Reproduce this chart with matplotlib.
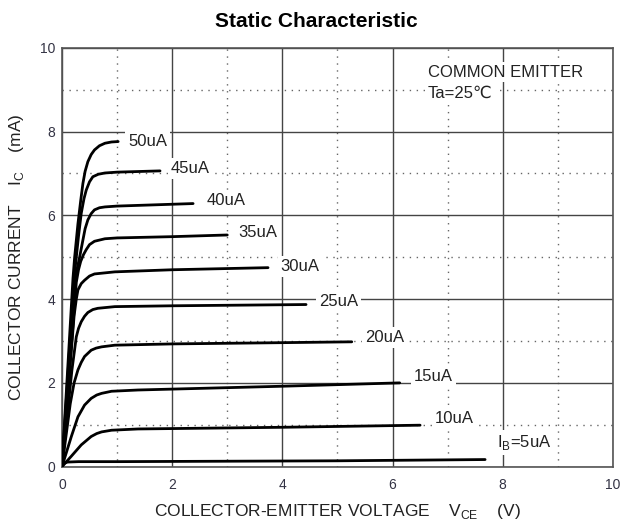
import matplotlib
matplotlib.use('Agg')
from matplotlib import pyplot as plt

plt.rcParams['font.family'] = ['Liberation Sans', 'DejaVu Sans']

# V_CE (V) / I_C (mA)
vce_5 = [0, 0.04, 0.1, 0.3, 1.0, 3.0, 5.0, 7.68]
ic_5 = [0, 0.08, 0.11, 0.12, 0.12, 0.13, 0.14, 0.17]
vce_10 = [0, 0.17, 0.35, 0.53, 0.63, 0.72, 0.9, 1.38, 4.0, 6.5]
ic_10 = [0, 0.25, 0.52, 0.72, 0.79, 0.83, 0.87, 0.9, 0.94, 0.99]
vce_15 = [0, 0.17, 0.29, 0.41, 0.53, 0.63, 0.72, 0.9, 1.38, 4.0, 6.13]
ic_15 = [0, 0.72, 1.19, 1.47, 1.63, 1.71, 1.75, 1.8, 1.83, 1.92, 2.0]
vce_20 = [0, 0.15, 0.22, 0.29, 0.35, 0.41, 0.53, 0.62, 0.72, 0.96, 2.0, 4.0, 5.26]
ic_20 = [0, 1.5, 2.0, 2.31, 2.49, 2.63, 2.78, 2.83, 2.86, 2.9, 2.93, 2.96, 2.98]
vce_25 = [0, 0.18, 0.26, 0.3, 0.35, 0.41, 0.47, 0.56, 0.65, 0.96, 2.0, 4.43]
ic_25 = [0, 2.3, 3.1, 3.3, 3.46, 3.59, 3.68, 3.75, 3.78, 3.82, 3.84, 3.87]
vce_30 = [0, 0.22, 0.26, 0.29, 0.35, 0.41, 0.5, 0.59, 0.96, 2.0, 3.74]
ic_30 = [0, 3.6, 4.0, 4.22, 4.37, 4.45, 4.55, 4.6, 4.65, 4.7, 4.75]
vce_35 = [0, 0.26, 0.3, 0.34, 0.39, 0.44, 0.5, 0.59, 0.78, 1.0, 2.0, 3.0]
ic_35 = [0, 4.4, 4.7, 4.9, 5.06, 5.18, 5.3, 5.38, 5.44, 5.46, 5.49, 5.53]
vce_40 = [0, 0.24, 0.32, 0.38, 0.42, 0.47, 0.53, 0.59, 0.68, 0.78, 1.0, 2.38]
ic_40 = [0, 4.5, 5.0, 5.41, 5.68, 5.89, 6.04, 6.13, 6.18, 6.2, 6.22, 6.28]
vce_45 = [0, 0.22, 0.3, 0.35, 0.4, 0.44, 0.5, 0.56, 0.66, 0.78, 1.0, 1.78]
ic_45 = [0, 4.5, 5.5, 6.05, 6.4, 6.6, 6.8, 6.92, 6.98, 7.01, 7.03, 7.06]
vce_50 = [0, 0.2, 0.23, 0.29, 0.34, 0.38, 0.42, 0.47, 0.53, 0.59, 0.68, 0.78, 0.9, 1.02]
ic_50 = [0, 4.5, 5.0, 5.8, 6.35, 6.76, 7.05, 7.28, 7.45, 7.56, 7.66, 7.72, 7.75, 7.76]

curves = [(vce_5, ic_5), (vce_10, ic_10), (vce_15, ic_15), (vce_20, ic_20),
          (vce_25, ic_25), (vce_30, ic_30), (vce_35, ic_35), (vce_40, ic_40),
          (vce_45, ic_45), (vce_50, ic_50)]

labels = ['I$_\\mathregular{B}$=5uA', '10uA', '15uA', '20uA', '25uA',
          '30uA', '35uA', '40uA', '45uA', '50uA']
label_x = [7.9, 6.77, 6.39, 5.5, 4.67, 3.97, 3.2, 2.63, 1.98, 1.2]
label_y = [0.57, 1.16, 2.16, 3.08, 3.95, 4.77, 5.58, 6.36, 7.12, 7.77]

fig = plt.figure(figsize=(6.21, 5.22), dpi=100)
ax = fig.add_axes([0.0998, 0.106, 0.8872, 0.8026])

ax.set_xlim(0, 10)
ax.set_ylim(0, 10)
ax.set_xticks([0, 2, 4, 6, 8, 10])
ax.set_yticks([0, 2, 4, 6, 8, 10])
ax.set_xticks([1, 3, 5, 7, 9], minor=True)
ax.set_yticks([1, 3, 5, 7, 9], minor=True)
ax.grid(which='major', color='#444444', lw=1.0, ls='-')
ax.grid(which='minor', color='#666666', lw=1.0, ls=(0, (1, 4)))
ax.set_axisbelow(True)
ax.tick_params(which='both', length=0, labelsize=10, colors='#333344')
ax.tick_params(axis='x', pad=8)
ax.tick_params(axis='y', pad=5)
for s in ax.spines.values():
    s.set_color('#555555')
    s.set_linewidth(1.2)

for (x, y) in curves:
    ax.plot(x, y, color='black', lw=2.0, solid_capstyle='round',
            solid_joinstyle='round', zorder=3)

for t, x, y in zip(labels, label_x, label_y):
    ax.text(x, y, t, fontsize=12, color='#222222', va='center', ha='left',
            bbox=dict(facecolor='white', edgecolor='none', pad=2), zorder=4)

ax.text(6.64, 9.42, 'COMMON EMITTER', fontsize=12, color='#222222', va='center',
        bbox=dict(facecolor='white', edgecolor='none', pad=2), zorder=4)
ax.text(6.64, 8.91, 'Ta=25\u2103', fontsize=12, color='#222222', va='center',
        bbox=dict(facecolor='white', edgecolor='none', pad=2), zorder=4)

ax.set_xlabel('COLLECTOR-EMITTER VOLTAGE    V$_\\mathregular{CE}$    (V)',
              fontsize=12.5, color='#222222', labelpad=7)
ax.set_ylabel('COLLECTOR CURRENT    I$_\\mathregular{C}$    (mA)',
              fontsize=12.5, color='#222222', labelpad=10)

fig.text(0.51, 0.958, 'Static Characteristic', fontsize=15, fontweight='bold',
         ha='center', va='center')

fig.savefig('out.png', dpi=100)
